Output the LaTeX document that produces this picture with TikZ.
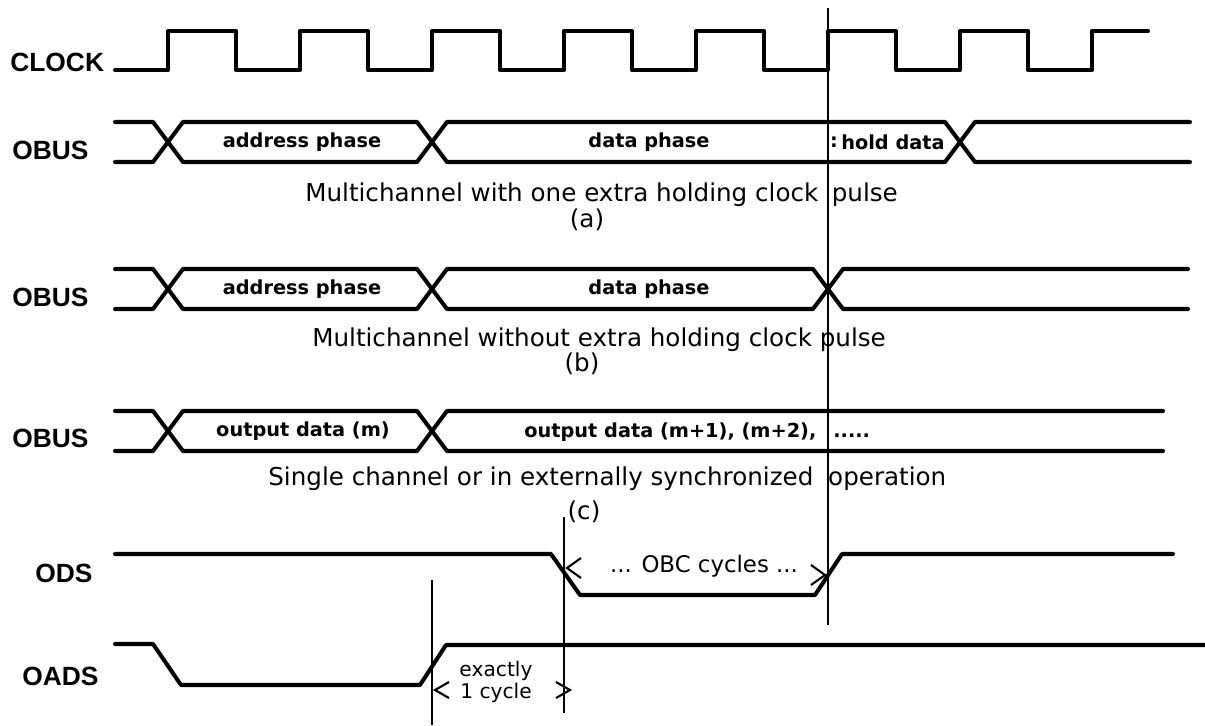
\documentclass[tikz,border=0pt]{standalone}
\usepackage{fontspec}
\setmainfont{DejaVu Sans}
\newfontfamily\labelfont{Liberation Sans}
\usetikzlibrary{calc}

\begin{document}
\begin{tikzpicture}[x=0.02cm,y=-0.02cm,
  sig/.style={line width=2.3pt,line cap=round,line join=round},
  vline/.style={line width=1pt},
  chev/.style={line width=1.2pt},
  signame/.style={anchor=west,inner sep=0pt,font=\labelfont\bfseries\fontsize{15}{17}\selectfont},
  bustext/.style={inner sep=0pt,font=\bfseries\fontsize{11}{12}\selectfont},
  captext/.style={inner sep=0pt,font=\fontsize{14}{16}\selectfont},
  dimtext/.style={inner sep=0pt,font=\fontsize{13}{14}\selectfont}]
  \useasboundingbox (0,0) rectangle (1205,725);

  \node[signame] (clk) at (10,62) {CLOCK};
  \node[signame] (obusa) at (12,150) {OBUS};
  \node[signame] (obusb) at (12,297) {OBUS};
  \node[signame] (obusc) at (12,438) {OBUS};
  \node[signame] (ods) at (35,573) {ODS};
  \node[signame] (oads) at (22,676) {OADS};

  %% clock
  \draw[sig] (115,70) foreach \x in {168,300,432,564,696,828,960} {
    -- (\x,70) -- (\x,31) -- ({\x+68},31) -- ({\x+68},70)
  } -- (1092,70) -- (1092,31) -- (1148,31);

  %% (a)
  \draw[sig] (115,122) -- (153,122) -- (183,162) -- (417,162) -- (447,122)
    -- (945,122) -- (975,162) -- (1190,162);
  \draw[sig] (115,162) -- (153,162) -- (183,122) -- (417,122) -- (447,162)
    -- (945,162) -- (975,122) -- (1190,122);
  \node[bustext] (adra) at (302,142) {address phase};
  \node[bustext] (data) at (649,142) {data phase};
  \node[bustext] (holdmark) at (834,142) {:};
  \node[bustext] (holda) at (893,142) {hold data};
  \node[captext,anchor=base west] (capa) at (305,201)
    {Multichannel with one extra holding clock\hspace{0.55em}pulse};
  \node[captext] (taga) at (587,220) {(a)};

  %% (b)
  \draw[sig] (115,269) -- (153,269) -- (183,309) -- (417,309) -- (447,269)
    -- (813,269) -- (843,309) -- (1188,309);
  \draw[sig] (115,309) -- (153,309) -- (183,269) -- (417,269) -- (447,309)
    -- (813,309) -- (843,269) -- (1188,269);
  \node[bustext] (adrb) at (302,289) {address phase};
  \node[bustext] (datb) at (649,289) {data phase};
  \node[captext,anchor=base west] (capb) at (312,346)
    {Multichannel without extra holding clock pulse};
  \node[captext] (tagb) at (582,364) {(b)};

  %% (c)
  \draw[sig] (115,411) -- (153,411) -- (183,451) -- (417,451) -- (447,411) -- (1163,411);
  \draw[sig] (115,451) -- (153,451) -- (183,411) -- (417,411) -- (447,451) -- (1163,451);
  \node[bustext] (outm) at (303,431) {output data (m)};
  \node[bustext,anchor=base west] (outn) at (524,437) {output data (m+1), (m+2),};
  \node[bustext,anchor=base west] (outdots) at (833,437) {.....};
  \node[captext,anchor=base west] (capc) at (268,485)
    {Single channel or in externally synchronized\hspace{0.6em}operation};
  \node[captext] (tagc) at (584,512) {(c)};

  %% strobes
  \draw[sig] (115,554) -- (551,554) -- (580,595) -- (815,595) -- (842,554) -- (1173,554);
  \draw[sig] (115,644) -- (153,644) -- (181,685) -- (420,685) -- (446,645) -- (1205,645);

  % markers
  \coordinate (m1top) at (828,8);
  \coordinate (m1bot) at (828,625);
  \coordinate (m2top) at (564,517);
  \coordinate (m2bot) at (564,713);
  \coordinate (m3top) at (432,580);
  \coordinate (m3bot) at (432,725);
  \draw[vline] (m1top) -- (m1bot);
  \draw[vline] (m2top) -- (m2bot);
  \draw[vline] (m3top) -- (m3bot);

  \node[dimtext] (obc) at (704,566) {... OBC cycles ...};
  \draw[chev] (581,558) -- (567,568) -- (581,578);
  \draw[chev] (811,565) -- (825,575) -- (811,585);

  \node[dimtext,align=center,font=\fontsize{11.5}{11}\selectfont] (exact) at (496,682)
    {exactly\\1 cycle};
  \draw[chev] (449,682) -- (435,690) -- (449,698);
  \draw[chev] (556,682) -- (570,690) -- (556,698);
\end{tikzpicture}
\end{document}
